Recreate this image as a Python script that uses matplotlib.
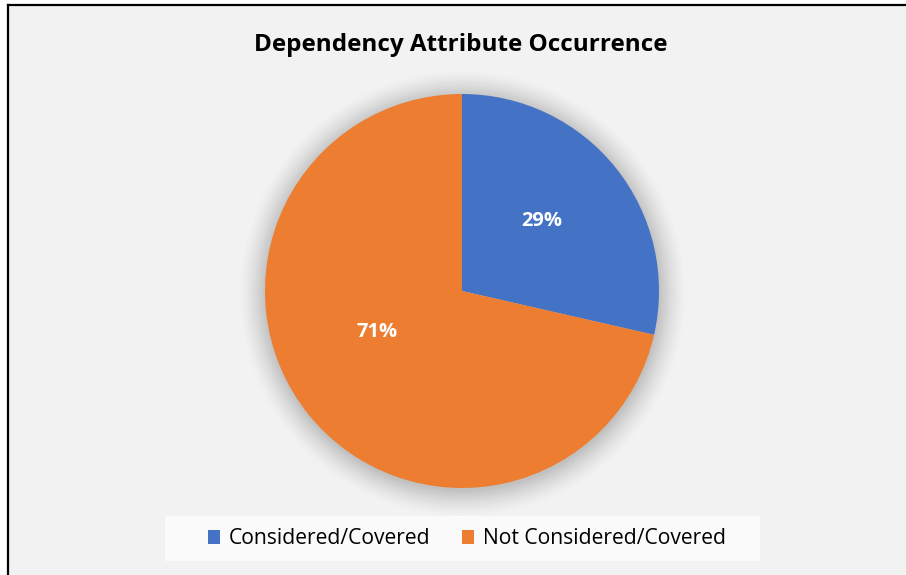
import numpy as np
import matplotlib.pyplot as plt
from matplotlib.patches import Rectangle

# values (29% / 71%)
labels = ['Considered/Covered', 'Not Considered/Covered']
values = [2, 5]
colors = ['#4472C4', '#ED7D31']
title = 'Dependency Attribute Occurrence'

plt.rcParams['font.family'] = ['Open Sans', 'DejaVu Sans']

W, H = 906, 575
fig = plt.figure(figsize=(W / 100, H / 100), dpi=100)
fig.patch.set_facecolor('white')
ax = fig.add_axes([0, 0, 1, 1])

# chart area background + border (left and top only visible)
ax.add_patch(Rectangle((8, 0), W - 8, H - 5, facecolor='#F2F2F2', edgecolor='none', zorder=0))
ax.plot([8, 8], [0, H - 5], color='black', lw=1.6, zorder=1)
ax.plot([8, W], [H - 5, H - 5], color='black', lw=1.6, zorder=1)

cx, cy, r = 462, H - 291, 197

# soft shadow behind the pie
yy, xx = np.mgrid[0:H, 0:W]
d = np.hypot(xx - cx, yy - (cy - 3)) - r
shadow = np.clip(1 - d / 28, 0, 1) ** 1.5 * 0.2
rgba = np.zeros((H, W, 4))
rgba[..., 3] = shadow
ax.imshow(rgba, extent=(0, W, 0, H), origin='lower', zorder=1, interpolation='bilinear')

wedges, texts, autotexts = ax.pie(
    values, colors=colors, startangle=90, counterclock=False,
    center=(cx, cy), radius=r, autopct='%1.0f%%', pctdistance=0.55,
    wedgeprops=dict(linewidth=0), frame=True,
    textprops=dict(color='white', fontsize=14.5, fontweight='bold'))
for w in wedges:
    w.set_zorder(2)
# label placement (Excel "best fit"): angle in degrees, fraction of radius
label_pos = [(41, 0.54), (205.5, 0.48)]
for t, (a, f) in zip(autotexts, label_pos):
    t.set_position((cx + f * r * np.cos(np.radians(a)), cy + f * r * np.sin(np.radians(a))))
    t.set_zorder(3)
ax.set_xlim(0, W)
ax.set_ylim(0, H)
ax.set_aspect('auto')
ax.axis('off')

ax.text(461, H - 45, title, ha='center', va='center', fontsize=17.5, fontweight='bold', color='black', zorder=3)

# legend box
ax.add_patch(Rectangle((165, H - 561), 595, 45, facecolor='#FAFAFA', edgecolor='none', zorder=2))
leg = ax.legend(wedges, labels, loc='center', bbox_to_anchor=(467 / W, 1 - 539 / H),
                ncol=2, frameon=False, fontsize=15.2, handlelength=0.58, handleheight=0.58,
                handletextpad=0.4, columnspacing=1.5)
leg.set_zorder(4)

fig.savefig('out.png', dpi=100, facecolor=fig.get_facecolor())
